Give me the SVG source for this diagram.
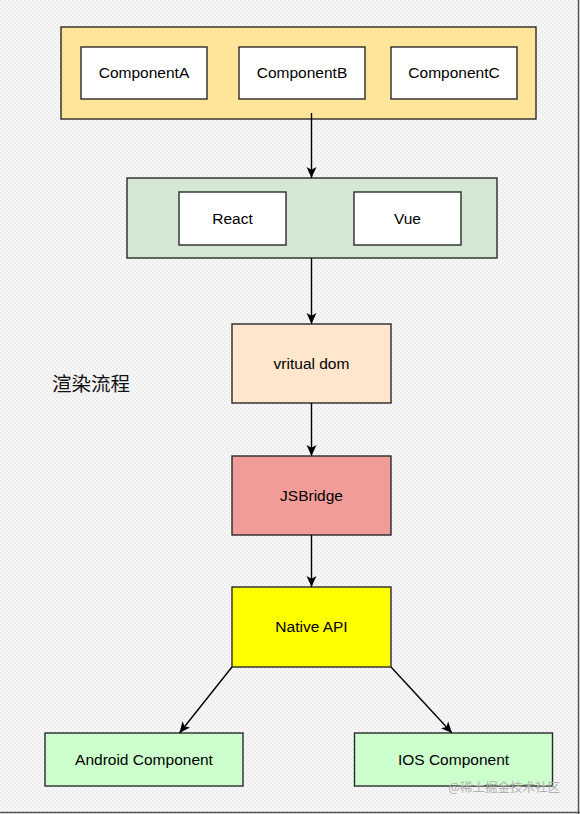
<svg xmlns="http://www.w3.org/2000/svg" width="580" height="814" viewBox="0 0 580 814">
<defs>
<pattern id="chk" width="4" height="4" patternUnits="userSpaceOnUse">
<rect width="4" height="4" fill="#f8f8f8"/>
<rect width="2" height="2" fill="#ededed"/>
<rect x="2" y="2" width="2" height="2" fill="#ededed"/>
</pattern>
<marker id="arr" viewBox="0 0 10 10" refX="10" refY="5" markerWidth="11" markerHeight="11" markerUnits="userSpaceOnUse" orient="auto">
<path d="M0,0.5 L10,5 L0,9.5 L2.5,5 Z" fill="#000"/>
</marker>
<style>
.box{stroke:#2a2a2a;stroke-width:1.4}
.lbl{font-family:"Liberation Sans",Arial,sans-serif;font-size:15.5px;fill:#000;text-anchor:middle;dominant-baseline:central}
.edge{stroke:#000;stroke-width:1.4;fill:none;marker-end:url(#arr)}
</style>
</defs>
<rect width="580" height="814" fill="url(#chk)"/>
<line x1="578.5" y1="0" x2="578.5" y2="814" stroke="#555" stroke-width="1.5"/>
<line x1="0" y1="812.5" x2="580" y2="812.5" stroke="#555" stroke-width="1.5"/>

<g id="components">
<rect class="box" x="61" y="27" width="475" height="92" fill="#ffe599"/>
</g>
<g id="componentA"><rect class="box" x="81" y="47" width="126" height="52" fill="#fff"/><text class="lbl" x="144" y="72.5">ComponentA</text></g>
<g id="componentB"><rect class="box" x="239" y="47" width="126" height="52" fill="#fff"/><text class="lbl" x="302" y="72.5">ComponentB</text></g>
<g id="componentC"><rect class="box" x="391" y="47" width="126" height="52" fill="#fff"/><text class="lbl" x="454" y="72.5">ComponentC</text></g>

<g id="frameworks"><rect class="box" x="127" y="178" width="370" height="80" fill="#d5e8d4"/></g>
<g id="react"><rect class="box" x="179" y="192" width="107" height="53" fill="#fff"/><text class="lbl" x="232.5" y="218">React</text></g>
<g id="vue"><rect class="box" x="354" y="192" width="107" height="53" fill="#fff"/><text class="lbl" x="407.5" y="218">Vue</text></g>

<g id="vdom"><rect class="box" x="232" y="324" width="159" height="79" fill="#ffe6cc"/><text class="lbl" x="311.5" y="363">vritual dom</text></g>
<g id="jsbridge"><rect class="box" x="232" y="456" width="159" height="79" fill="#f19c99"/><text class="lbl" x="311.5" y="495">JSBridge</text></g>
<g id="native"><rect class="box" x="232" y="587" width="159" height="80" fill="#ffff00"/><text class="lbl" x="311.5" y="626.5">Native API</text></g>
<g id="android"><rect class="box" x="45" y="733" width="198" height="53" fill="#ccffcc"/><text class="lbl" x="144" y="759">Android Component</text></g>
<g id="ios"><rect class="box" x="354.5" y="733" width="198" height="53" fill="#ccffcc"/><text class="lbl" x="453.5" y="759">IOS Component</text></g>

<g id="title"><text x="52" y="390.5" font-family="'Noto Sans CJK SC','Noto Sans',sans-serif" font-size="19.5" fill="#111">渲染流程</text></g>

<g id="connectors">
<line class="edge" x1="311.5" y1="113" x2="311.5" y2="178"/>
<line class="edge" x1="311.5" y1="258" x2="311.5" y2="324"/>
<line class="edge" x1="311.5" y1="403" x2="311.5" y2="456"/>
<line class="edge" x1="311.5" y1="535" x2="311.5" y2="587"/>
<line class="edge" x1="232" y1="667" x2="179.5" y2="733"/>
<line class="edge" x1="391" y1="667" x2="452" y2="733"/>
</g>

<text x="560" y="792" text-anchor="end" font-family="'Noto Sans CJK SC',sans-serif" font-size="12.5" fill="#b0b0b0">@稀土掘金技术社区</text>
</svg>
